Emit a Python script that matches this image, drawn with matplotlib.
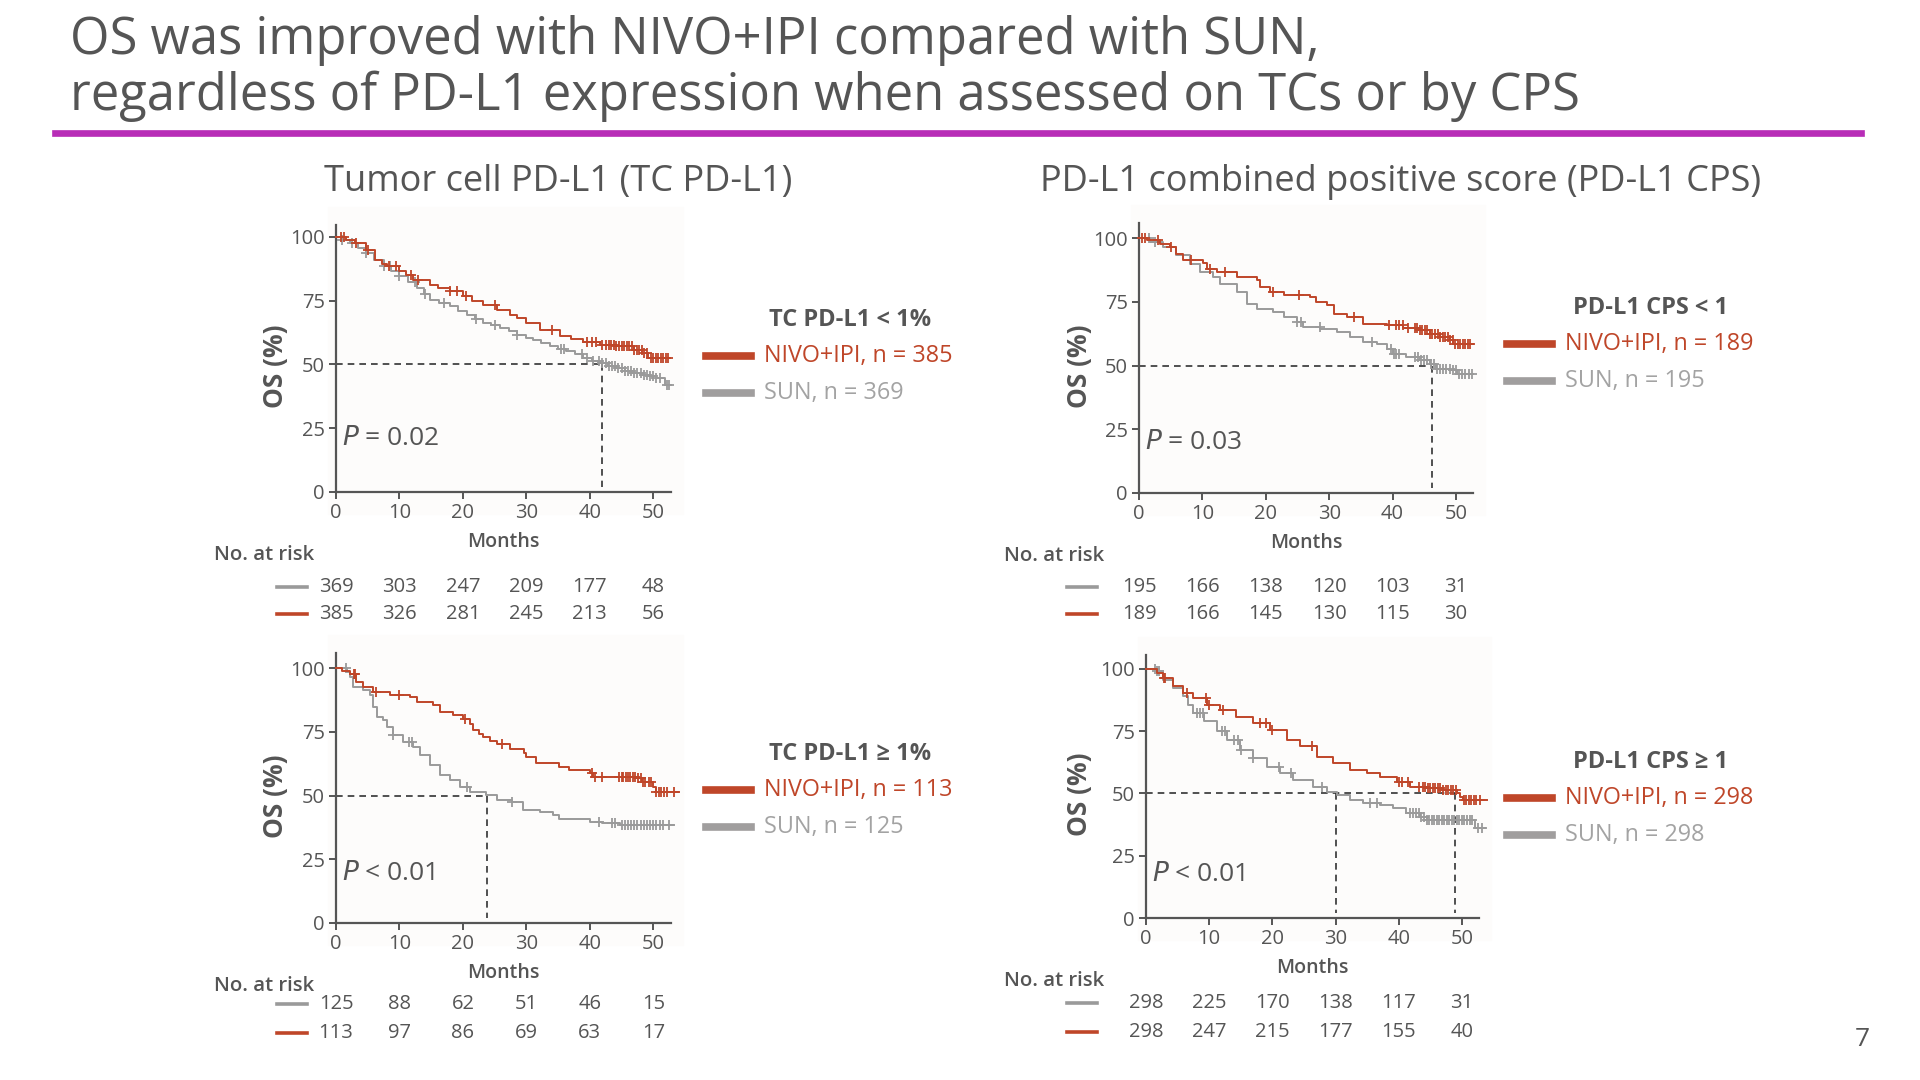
import numpy as np
import matplotlib
matplotlib.use("Agg")
import matplotlib.pyplot as plt
from matplotlib.lines import Line2D
from matplotlib.patches import Rectangle
from matplotlib.transforms import blended_transform_factory

plt.rcParams['font.family'] = ['Open Sans', 'DejaVu Sans']

W, H = 1920, 1080
RED = '#bf4629'
GREY = '#9a9a9a'
TXT = '#555555'

# ---- data: KM curves (months, OS %) ----
p1_nivo_t = [0, 1.5, 3, 4.8, 6.1, 7.2, 8, 10, 11, 12.2, 14.8, 16, 18, 20, 21.5, 23.2, 25.3, 27.4, 28.5, 30,
             32.1, 35.3, 37, 39, 41.6, 44.2, 47, 48.3, 49.2, 52.7]
p1_nivo_s = [100, 99, 97.6, 95, 91, 89.5, 88.5, 86.5, 85, 83, 81, 80, 79, 76.7, 75, 73.5, 71.5, 69.5, 68.2, 66.3,
             63.7, 61, 60, 59, 57.8, 57.1, 55.8, 54.5, 52.5, 52.5]
p1_sun_t = [0, 1, 2.2, 3.5, 4.8, 6, 7.5, 8.7, 10, 11.3, 12.7, 13.8, 14.8, 16.3, 18, 19.3, 20.6, 21.9, 23.2, 24.5,
            25.8, 27.2, 28.5, 30, 31, 32.3, 33.7, 35, 36.3, 37.6, 39, 40.3, 41.6, 42.9, 44.2, 45.5, 46.8, 48.2,
            49.5, 50.5, 51.8, 52.7]
p1_sun_s = [100, 99, 97.6, 95.5, 93.7, 91, 88.5, 86.5, 84.6, 82.3, 80, 77.5, 75.4, 74, 72.8, 71, 69.5, 68, 66.3, 65.3,
            64.3, 63, 61.7, 60.5, 59.7, 58.5, 57.1, 56, 55.2, 54, 52.5, 51.5, 50.6, 49.6, 48.6, 47.6, 46.7, 46,
            45.4, 44.7, 42.1, 42.1]
p1_nivo_cens = [0.8, 1.2, 3.2, 5, 8.3, 9.5, 11.8, 13, 18, 19, 20.5, 25, 34, 39.5, 40.3, 41, 42, 42.5, 43, 43.4,
                43.8, 44.2, 44.6, 45, 45.4, 45.8, 46.2, 46.6, 47, 47.4, 47.8, 48.2, 48.6, 49, 49.6, 50, 50.4,
                50.8, 51.2, 51.6, 52, 52.4]
p1_sun_cens = [1, 2.5, 4.8, 7.5, 8.5, 10, 12.5, 14, 17, 22, 25, 28.5, 35.5, 36, 38.8, 39.5, 40.5, 41.5, 42, 42.5,
               43, 43.5, 44, 44.5, 45, 45.5, 46, 46.5, 47, 47.5, 48, 48.5, 49, 49.5, 50, 50.5, 51, 52.2, 52.5]

p2_nivo_t = [0, 1, 2.2, 3.2, 4.3, 5.9, 8.5, 11.6, 12.7, 15.3, 16.4, 18.4, 20, 21.1, 21.6, 22.5, 23.2, 24.2, 25.3,
             27.4, 29.6, 30, 31.6, 35.2, 36.8, 40, 40.5, 47.3, 48.3, 49.9, 50.4, 54.1]
p2_nivo_s = [100, 99, 97.8, 94.5, 92.6, 90.6, 89.3, 88.7, 86.7, 85.4, 82.8, 81.5, 80.2, 78.2, 75.6, 74.3, 73, 71.5,
             70.4, 68.4, 66.5, 65.2, 62.6, 61.3, 60, 58.7, 57.4, 56.7, 55.4, 53.4, 51.4, 51.4]
p2_sun_t = [0, 1.7, 2.2, 2.7, 4.3, 5.3, 5.9, 6.4, 7.4, 8, 9, 10.6, 12.2, 13.2, 14.8, 16.4, 17.9, 19.5, 21.1, 23.7,
            25.3, 27.8, 29.5, 32.1, 34.2, 35.2, 40, 42, 44.7, 53.3]
p2_sun_s = [100, 98.4, 96.5, 92.6, 91.3, 89.3, 84.7, 80.8, 79.5, 76.9, 73.7, 71, 69.1, 65.8, 61.9, 58, 56, 53.5,
            51.5, 50.2, 48.2, 47.6, 44.3, 43.7, 42.4, 40.7, 39.8, 39.1, 38.5, 38.5]
p2_nivo_cens = [2.8, 3, 6.3, 10, 20.3, 26.2, 40.4, 40.8, 42, 44.6, 45, 45.3, 45.7, 46, 46.4, 46.8, 47.2, 47.6,
                48, 48.4, 48.7, 49.3, 49.7, 50.5, 50.9, 51.3, 51.7, 52.2, 53.2]
p2_sun_cens = [1.5, 9, 11.5, 12, 20.7, 27.8, 41.5, 43.5, 44, 45, 45.5, 46, 46.5, 47, 47.5, 48, 48.5, 49, 49.5,
               50, 50.5, 51, 51.5, 52.5]

p3_nivo_t = [0, 1.2, 3.3, 4.9, 5.9, 7, 10.1, 10.7, 12.3, 15.4, 18.6, 19.1, 20.7, 22.8, 27, 28, 29.6, 30.7, 32.8,
             35.4, 39.1, 41.7, 44.3, 45.9, 47.5, 49.1, 49.6, 52.7]
p3_nivo_s = [100, 99.3, 97.8, 96.5, 93.9, 91.5, 90.2, 88, 86.7, 84.7, 83.4, 80.8, 78.8, 77.5, 76.9, 74.9, 73.6,
             70.3, 69, 66.4, 65.8, 64.8, 64.1, 62.5, 61.2, 59.9, 58.6, 58.6]
p3_sun_t = [0, 1.7, 3.8, 5.9, 8, 9.6, 11.7, 12.8, 15.4, 17, 18.6, 21.2, 22.8, 24.9, 25.9, 28.6, 31.2, 33.3, 35.4,
            37.5, 39.1, 40.1, 42.2, 44.3, 45.9, 46.9, 49.1, 50.1, 52.7]
p3_sun_s = [100, 98.4, 96.5, 93.2, 89.9, 86.7, 84.7, 82.1, 78.8, 74.3, 72.3, 71, 69, 67, 65.1, 64.4, 63.1, 61.2,
            59.2, 58.6, 56.6, 54.6, 53.3, 52, 50.7, 48.8, 48.1, 46.8, 46.8]
p3_nivo_cens = [0.5, 1, 3, 5, 8.2, 11.2, 13.5, 21.2, 25.2, 34, 39.5, 40.5, 41, 41.6, 42.5, 43.5, 43.9, 44.3,
                44.7, 45.1, 45.5, 45.9, 46.3, 46.7, 47.1, 47.5, 47.9, 48.3, 48.7, 49.1, 49.5, 49.9, 50.3, 50.7,
                51.1, 51.5, 51.9, 52.3]
p3_sun_cens = [1.5, 2.5, 25, 25.5, 28.5, 36.8, 39.8, 40.2, 40.6, 41, 43.5, 44, 44.5, 45, 45.5, 46, 46.5, 47,
               47.5, 48, 48.5, 49, 49.5, 50, 50.5, 51, 51.5, 52, 52.5]

p4_nivo_t = [0, 1.7, 2.7, 4.3, 5.9, 7.5, 9.6, 11.7, 14.3, 17, 19.6, 22.3, 24.4, 27, 29.6, 32.3, 34.9, 37, 39.7,
             41.8, 44.4, 47, 49.2, 49.7, 50.2, 53.9]
p4_nivo_s = [100, 98.4, 96.4, 93, 90.3, 88.3, 85.6, 83.6, 80.9, 78.3, 75.6, 71.5, 68.9, 64.8, 62.1, 59.5, 58.1,
             56.8, 54.8, 52.8, 52.1, 51.4, 50.1, 48.7, 47.4, 47.4]
p4_sun_t = [0, 1.7, 2.7, 4.3, 5.9, 6.7, 7.5, 9.1, 11.2, 12.8, 14.9, 17, 19.1, 21.2, 23.3, 26.5, 28.6, 30.2, 32.3,
            34.4, 37, 39.1, 41.2, 43.4, 44.4, 52.1, 53.6]
p4_sun_s = [100, 99, 95.7, 92.3, 89, 85.5, 82.3, 79, 74.9, 71.5, 67.5, 64.2, 60.8, 58.1, 55.4, 52.8, 50.7, 49.4,
            47.4, 46, 45.4, 44, 42, 40.7, 39.3, 36, 36]
p4_nivo_cens = [2.8, 3, 6.5, 9.5, 10, 12.2, 18, 19, 20, 26.2, 40, 40.5, 41.5, 43.2, 43.8, 44.2, 44.6, 45, 45.4,
                45.8, 46.2, 46.6, 47, 47.4, 47.8, 48.2, 48.6, 49, 50.3, 50.7, 51.1, 51.5, 51.9, 52.3, 52.8]
p4_sun_cens = [1.5, 1.8, 2, 8, 8.5, 9, 12, 12.5, 14, 14.5, 15, 17, 21, 23, 27.8, 35.5, 36.5, 41.8, 42.2, 42.8,
               43.2, 43.6, 44, 44.4, 44.8, 45.2, 45.6, 46, 46.4, 46.8, 47.2, 47.6, 48, 48.4, 48.8, 49.2, 49.6,
               50, 50.4, 50.8, 51.2, 51.6, 52.5, 53.2]

# medians (months) and numbers at risk at 0,10,...,50
medians = [[41.9], [23.8], [46.3], [30.1, 48.9]]
risk_months = [0, 10, 20, 30, 40, 50]
p1_risk_sun = [369, 303, 247, 209, 177, 48]
p1_risk_nivo = [385, 326, 281, 245, 213, 56]
p2_risk_sun = [125, 88, 62, 51, 46, 15]
p2_risk_nivo = [113, 97, 86, 69, 63, 17]
p3_risk_sun = [195, 166, 138, 120, 103, 31]
p3_risk_nivo = [189, 166, 145, 130, 115, 30]
p4_risk_sun = [298, 225, 170, 138, 117, 31]
p4_risk_nivo = [298, 247, 215, 177, 155, 40]

p_values = ['= 0.02', '< 0.01', '= 0.03', '< 0.01']
headers = ['TC PD-L1 < 1%', 'TC PD-L1 \u2265 1%', 'PD-L1 CPS < 1', 'PD-L1 CPS \u2265 1']
n_nivo = [385, 113, 189, 298]
n_sun = [369, 125, 195, 298]


def fx(px):
    return px / W


def fy(py):
    return 1 - py / H


fig = plt.figure(figsize=(19.2, 10.8), dpi=100)
fig.patch.set_facecolor('white')

# title + rule
fig.text(fx(70), fy(54), 'OS was improved with NIVO+IPI compared with SUN,', fontsize=36.5,
         color='#555555', va='baseline')
fig.text(fx(70), fy(110), 'regardless of PD-L1 expression when assessed on TCs or by CPS', fontsize=36.5,
         color='#555555', va='baseline')
fig.add_artist(Line2D([fx(55), fx(1861)], [fy(133), fy(133)], color='#b82db7', lw=4.8))
fig.text(fx(558), fy(191), 'Tumor cell PD-L1 (TC PD-L1)', fontsize=26, color='#555555',
         ha='center', va='baseline')
fig.text(fx(1401), fy(191), 'PD-L1 combined positive score (PD-L1 CPS)', fontsize=26, color='#555555',
         ha='center', va='baseline')
fig.text(fx(1862), fy(1039), '7', fontsize=19, color='#555555', ha='center', va='center')


def censor_y(t, s, cens):
    idx = np.searchsorted(t, cens, side='right') - 1
    return np.asarray(s)[idx]


def draw_panel(box, ytop, curves, cens, med, risk, pval, header, nn, ns, lay):
    left, right, bottom, top, xmax = box
    fig.add_artist(Rectangle((fx(left - 8), fy(bottom + 22)), (right - left + 20) / W,
                             (bottom - top + 40) / H, color='#fdfcfb', zorder=-5))
    ax = fig.add_axes([fx(left), fy(bottom), (right - left) / W, (bottom - top) / H])
    ax.set_facecolor('none')
    ax.set_xlim(0, xmax)
    ax.set_ylim(0, ytop)
    for sp in ['top', 'right']:
        ax.spines[sp].set_visible(False)
    for sp in ['left', 'bottom']:
        ax.spines[sp].set_color('#555555')
        ax.spines[sp].set_linewidth(1.6)
    ax.set_xticks([0, 10, 20, 30, 40, 50])
    ax.set_yticks([0, 25, 50, 75, 100])
    ax.tick_params(length=5, width=1.4, color='#555555', labelsize=14.5, labelcolor=TXT, pad=3)

    (tn, sn), (ts, ss) = curves
    ax.plot(ts, ss, drawstyle='steps-post', color=GREY, lw=1.4, clip_on=False, zorder=3)
    ax.plot(tn, sn, drawstyle='steps-post', color=RED, lw=1.4, clip_on=False, zorder=4)
    ax.plot(cens[1], censor_y(ts, ss, cens[1]), ls='none', marker='+', ms=7.5, mew=1.3, color=GREY,
            clip_on=False, zorder=3)
    ax.plot(cens[0], censor_y(tn, sn, cens[0]), ls='none', marker='+', ms=7.5, mew=1.3, color=RED,
            clip_on=False, zorder=4)

    ax.plot([0, max(med)], [50, 50], ls=(0, (4, 3)), color='#333333', lw=1.2, zorder=2)
    for m in med:
        ax.plot([m, m], [50, 2], ls=(0, (4, 3)), color='#333333', lw=1.2, zorder=2)

    ax.text(0.9, lay['py'], r'$P$ ' + pval, fontsize=19, color=TXT, va='center', ha='left')

    # axis labels
    fig.text(fx(lay['ylx']), fy((top + bottom) / 2 + 8), 'OS (%)', rotation=90, fontsize=19,
             fontweight='bold', color=TXT, ha='center', va='center')
    fig.text(fx((left + right) / 2), fy(bottom + 50), 'Months', fontsize=14,
             fontweight='semibold', color=TXT, ha='center', va='center')
    fig.text(fx(lay['nx']), fy(bottom + 63), 'No. at risk', fontsize=14.7, fontweight='semibold',
             color=TXT, ha='left', va='center')

    # risk table
    tr = blended_transform_factory(ax.transData, fig.transFigure)
    for row, (vals, col) in enumerate([(risk[0], GREY), (risk[1], RED)]):
        yy = bottom + lay['r0'] + row * lay['dr']
        fig.add_artist(Line2D([fx(lay['nx'] + 63), fx(lay['nx'] + 93)], [fy(yy), fy(yy)], color=col, lw=2.6))
        for m, v in zip(risk_months, vals):
            ax.text(m, fy(yy), str(v), transform=tr, fontsize=14.5, color=TXT, ha='center', va='center')

    # legend
    lx = lay['lx']
    ly = lay['ly']
    fig.text(fx(lx + 144), fy(ly), header, fontsize=17, fontweight='bold', color=TXT,
             ha='center', va='center')
    fig.add_artist(Line2D([fx(lx), fx(lx + 45)], [fy(ly + 36), fy(ly + 36)], color=RED, lw=5.5))
    fig.add_artist(Line2D([fx(lx), fx(lx + 45)], [fy(ly + 73), fy(ly + 73)], color='#a09e9e', lw=5.5))
    fig.text(fx(lx + 58), fy(ly + 36), 'NIVO+IPI, n = %d' % nn, fontsize=16.8, color=RED, va='center')
    fig.text(fx(lx + 58), fy(ly + 73), 'SUN, n = %d' % ns, fontsize=16.8, color='#a3a3a3', va='center')
    return ax


draw_panel((336, 671, 492, 225, 52.8), 104.7,
           [(p1_nivo_t, p1_nivo_s), (p1_sun_t, p1_sun_s)], [p1_nivo_cens, p1_sun_cens], medians[0],
           [p1_risk_sun, p1_risk_nivo], p_values[0], headers[0], n_nivo[0], n_sun[0],
           dict(py=21, ylx=276, nx=214, r0=95, dr=27, lx=706, ly=320))
draw_panel((336, 671, 923, 653, 52.8), 105.9,
           [(p2_nivo_t, p2_nivo_s), (p2_sun_t, p2_sun_s)], [p2_nivo_cens, p2_sun_cens], medians[1],
           [p2_risk_sun, p2_risk_nivo], p_values[1], headers[1], n_nivo[1], n_sun[1],
           dict(py=19.6, ylx=276, nx=214, r0=81, dr=29, lx=706, ly=754))
draw_panel((1139, 1473, 493, 223, 52.7), 105.9,
           [(p3_nivo_t, p3_nivo_s), (p3_sun_t, p3_sun_s)], [p3_nivo_cens, p3_sun_cens], medians[2],
           [p3_risk_sun, p3_risk_nivo], p_values[2], headers[2], n_nivo[2], n_sun[2],
           dict(py=20, ylx=1079, nx=1004, r0=94, dr=27, lx=1507, ly=308))
draw_panel((1146, 1479, 918, 655, 52.7), 105.6,
           [(p4_nivo_t, p4_nivo_s), (p4_sun_t, p4_sun_s)], [p4_nivo_cens, p4_sun_cens], medians[3],
           [p4_risk_sun, p4_risk_nivo], p_values[3], headers[3], n_nivo[3], n_sun[3],
           dict(py=17.3, ylx=1079, nx=1004, r0=85, dr=29, lx=1507, ly=762))

fig.savefig('out.png', dpi=100, facecolor='white')
